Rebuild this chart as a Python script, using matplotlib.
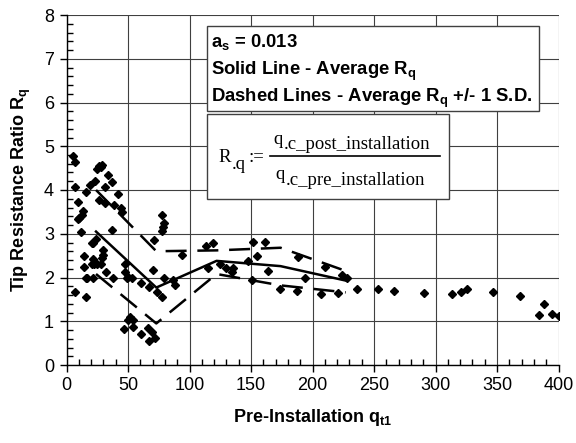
import matplotlib
matplotlib.use("Agg")
import matplotlib.pyplot as plt
from matplotlib.patches import Rectangle
from matplotlib.lines import Line2D
from matplotlib.ticker import MultipleLocator

plt.rcParams['font.family'] = ['Liberation Sans', 'DejaVu Sans']
plt.rcParams['mathtext.fontset'] = 'custom'
plt.rcParams['mathtext.rm'] = 'Liberation Sans'
plt.rcParams['mathtext.bf'] = 'Liberation Sans:bold'

# measured points (pre-installation qt1, Rq)
qt1 = [5.6, 6.6, 7.2, 9.6, 13.7, 12.6, 10.4, 9.1, 11.8, 15.9, 19.1, 22.9, 25.1, 26.7,
       28.6, 27.8, 26.7, 31.3, 31.5, 34.0, 37.2, 38.9, 42.1, 44.3, 45.0, 36.7, 21.8,
       21.0, 23.7, 14.2, 14.2, 21.8, 21.0, 22.6, 24.6, 27.8, 29.6, 29.6, 29.2, 16.5,
       21.8, 38.1, 47.6, 15.9, 31.9, 7.2, 15.9, 47.8, 49.7, 47.0, 49.7,
       51.6, 53.8, 54.3, 60.3, 66.5, 69.3, 67.3, 72.0, 77.4, 79.5, 78.7, 77.4, 71.4,
       93.7, 70.1, 53.0, 60.3, 79.5, 67.3, 73.3, 77.4, 86.8, 88.0, 48.9,
       113.4, 118.9, 151.4, 161.1, 154.6, 147.8, 115.3, 135.6, 134.3, 164.0, 150.6,
       173.6, 188.5, 187.6, 210.2, 223.7, 227.8, 193.9, 206.9, 221.0, 125.0, 130.0,
       236.0, 253.5, 266.3, 290.9, 313.2, 320.5, 325.9, 346.5, 368.7, 384.4, 388.2,
       394.5, 400.4]
rq = [4.78, 4.63, 4.08, 3.73, 3.53, 3.43, 3.35, 3.34, 3.05, 3.95, 4.11, 4.20, 4.47, 4.55,
      4.57, 4.52, 3.77, 4.08, 3.71, 4.34, 4.18, 3.66, 3.91, 3.58, 3.50, 3.09, 2.80,
      2.78, 2.87, 2.50, 2.25, 2.43, 2.31, 2.31, 2.32, 2.31, 2.63, 2.51, 2.44, 2.00,
      1.98, 2.00, 2.31, 1.98, 2.12, 1.68, 1.56, 2.13, 2.02, 0.82, 1.04,
      1.09, 1.04, 0.88, 0.71, 0.84, 0.76, 0.56, 0.61, 3.43, 3.24, 3.16, 3.07, 2.86,
      2.51, 2.17, 1.98, 1.88, 1.98, 1.78, 1.68, 1.56, 1.94, 1.82, 2.00,
      2.73, 2.80, 2.82, 2.82, 2.50, 2.38, 2.21, 2.21, 2.13, 2.15, 1.95,
      1.74, 2.48, 1.70, 2.23, 2.06, 1.98, 2.00, 1.62, 1.65, 2.30, 2.22,
      1.74, 1.74, 1.70, 1.65, 1.62, 1.68, 1.74, 1.68, 1.58, 1.14, 1.39,
      1.17, 1.12]

# binned average and +/- 1 S.D.
bin_x = [24, 73, 122, 174, 227]
avg = [3.05, 1.77, 2.38, 2.26, 1.93]
upper = [4.00, 2.60, 2.62, 2.68, 2.15]
lower = [2.08, 0.95, 2.08, 1.82, 1.66]

fig = plt.figure(figsize=(5.76, 4.43), dpi=100)
W, H = 576.0, 443.0
ax = fig.add_axes([66.5 / W, 1 - 365 / H, 492 / W, 350 / H])

ax.plot(qt1, rq, 'D', color='black', markersize=4.2, zorder=3)
ax.plot(bin_x, avg, '-', color='black', linewidth=1.8, zorder=4)
ax.plot(bin_x, upper, color='black', linewidth=1.8, linestyle=(0, (8.4, 4.3)), zorder=4)
ax.plot(bin_x, lower, color='black', linewidth=1.8, linestyle=(0, (8.4, 4.3)), zorder=4)

ax.set_xlim(0, 400)
ax.set_ylim(0, 8)
ax.xaxis.set_major_locator(MultipleLocator(50))
ax.xaxis.set_minor_locator(MultipleLocator(10))
ax.yaxis.set_major_locator(MultipleLocator(1))
ax.yaxis.set_minor_locator(MultipleLocator(0.2))
ax.grid(True, which='major', color='#404040', linewidth=0.8)
ax.set_axisbelow(True)
ax.tick_params(which='major', direction='out', length=5, width=1, labelsize=13, pad=4)
ax.tick_params(which='minor', direction='in', length=4, width=1)
for s in ['top', 'right']:
    ax.spines[s].set_visible(False)
for s in ['left', 'bottom']:
    ax.spines[s].set_linewidth(1.0)

ax.set_xlabel(r'Pre-Installation q$_\mathbf{t1}$', fontsize=13, fontweight='bold', labelpad=9)
ax.set_ylabel(r'Tip Resistance Ratio R$_\mathbf{q}$', fontsize=13, fontweight='bold', labelpad=8)

# legend text box
fig.patches.append(Rectangle((206.7 / W, 1 - 110.7 / H), (539 - 206.7) / W, (110.7 - 26) / H,
                             transform=fig.transFigure, facecolor='white', edgecolor='#404040',
                             linewidth=1.0, zorder=5))
box_lines = [r'a$_\mathbf{s}$ = 0.013',
             r'Solid Line - Average R$_\mathbf{q}$',
             r'Dashed Lines - Average R$_\mathbf{q}$ +/- 1 S.D.']
for txt, yb in zip(box_lines, [47, 75, 102.5]):
    fig.text(211 / W, 1 - yb / H, txt, fontsize=13.3, fontweight='bold', va='baseline', zorder=6)

# formula box
fig.patches.append(Rectangle((206.7 / W, 1 - 199 / H), (449 - 206.7) / W, (199 - 114.3) / H,
                             transform=fig.transFigure, facecolor='white', edgecolor='#404040',
                             linewidth=1.0, zorder=5))
serif = ['Liberation Serif', 'DejaVu Serif']
fs = 13.5
fig.text(218 / W, 1 - 161.7 / H, 'R', family=serif, fontsize=fs, va='baseline', zorder=6)
fig.text(231.5 / W, 1 - 169 / H, '.q', family=serif, fontsize=fs, va='baseline', zorder=6)
fig.text(248 / W, 1 - 161.7 / H, ':=', family=serif, fontsize=fs, va='baseline', zorder=6)
fig.text(273 / W, 1 - 144 / H, 'q', family=serif, fontsize=fs, va='baseline', zorder=6)
fig.text(283.5 / W, 1 - 149 / H, '.c_post_installation', family=serif, fontsize=fs,
         va='baseline', zorder=6)
fig.lines.append(Line2D([270 / W, 440 / W], [1 - 156 / H, 1 - 156 / H], transform=fig.transFigure,
                        color='black', linewidth=1.2, zorder=6))
fig.text(275 / W, 1 - 179 / H, 'q', family=serif, fontsize=fs, va='baseline', zorder=6)
fig.text(285.5 / W, 1 - 185 / H, '.c_pre_installation', family=serif, fontsize=fs,
         va='baseline', zorder=6)

fig.savefig('out.png', dpi=100, facecolor='white')
